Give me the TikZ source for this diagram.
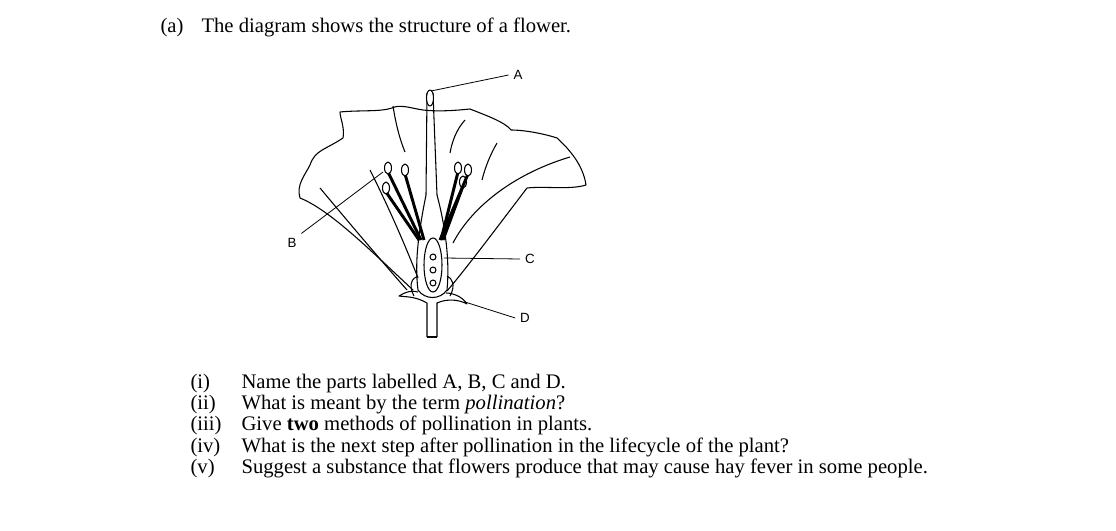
\documentclass[tikz,border=0pt]{standalone}
\usepackage{fontspec}
\setmainfont{Liberation Serif}
\setsansfont{Liberation Sans}
\usetikzlibrary{calc}

\begin{document}
\begin{tikzpicture}[x=0.75pt, y=-0.75pt, line width=0.8pt, line join=round,
    lbl/.style={font=\sffamily\fontsize{10}{11}\selectfont},
    txt/.style={anchor=base west, font=\fontsize{15.5}{17}\selectfont, inner sep=0pt}]
    \useasboundingbox (0,0) rectangle (1116,531);

    % heading and questions
    \node[txt] (qa) at (160,33) {(a)};
    \node[txt] (head) at (201,33) {The diagram shows the structure of a flower.};
    \foreach \n/\t [count=\i] in {(i)/{Name the parts labelled A, B, C and D.},
        (ii)/{What is meant by the term \textit{pollination}?},
        (iii)/{Give \textbf{two} methods of pollination in plants.},
        (iv)/{What is the next step after pollination in the lifecycle of the plant?},
        (v)/{Suggest a substance that flowers produce that may cause hay fever in some people.}}
    {
        \node[txt] (n\i) at (190,367+21.3*\i) {\n};
        \node[txt] (q\i) at (241,367+21.3*\i) {\t};
    }

    % petals
    \draw (413,290) .. controls (370,250) and (330,210) .. (300,198)
        .. controls (296,185) and (305,175) .. (310,165)
        .. controls (315,150) and (325,150) .. (343,138)
        .. controls (345,128) and (340,118) .. (340,112)
        .. controls (360,110) and (380,112) .. (392,108)
        .. controls (400,104) and (410,108) .. (423,110)
        .. controls (440,112) and (460,110) .. (470,109)
        .. controls (485,115) and (505,122) .. (511,130)
        .. controls (525,130) and (545,134) .. (557,138)
        .. controls (570,150) and (583,165) .. (586,185)
        .. controls (570,190) and (545,186) .. (527,188)
        .. controls (495,230) and (465,270) .. (447,291);
    \draw (320,188) .. controls (355,230) and (385,265) .. (407,290);
    \draw (370,170) .. controls (390,210) and (405,245) .. (418,278);
    \draw (393,106) .. controls (396,125) and (400,140) .. (405,152);
    \draw (465,120) .. controls (456,130) and (452,142) .. (450,153);
    \draw (497,143) .. controls (490,155) and (485,168) .. (482,180);
    \draw (570,157) .. controls (510,175) and (470,210) .. (453,243);

    % sepals and stalk
    \draw (427,337) -- (427,303) .. controls (415,296) and (405,297) .. (399,296)
        .. controls (405,292) and (412,290) .. (418,292);
    \draw (437,337) -- (437,303) .. controls (448,298) and (460,300) .. (467,304)
        .. controls (462,296) and (452,293) .. (446,293);
    \draw (427,337) -- (437,337);
    \draw (414,296) .. controls (408,285) and (412,278) .. (418,276);
    \draw (450,296) .. controls (456,285) and (452,278) .. (447,276);

    % pistil
    \draw (427,93) -- (426,195) .. controls (420,225) and (414,260) .. (418,290)
        .. controls (425,300) and (440,300) .. (447,290)
        .. controls (450,260) and (445,225) .. (437,195) -- (433,93);
    \draw[fill=white] (430,98) ellipse (3.5 and 8);
    \draw (433,265) ellipse (9 and 27);
    \foreach \oy in {257,270,283} \draw (433,\oy) circle (3);

    % stamens
    \foreach \ax/\ay/\bx in {388/168/421, 405/170/424, 386/188/419, 458/168/441, 463/182/443, 468/170/440}
    {
        \draw[line width=2.2pt] (\ax,\ay+4) -- (\bx,240);
        \draw[fill=white] (\ax,\ay) ellipse (3.5 and 6);
    }

    % labels
    \node[lbl] (la) at (518,75) {A};
    \node[lbl] (lb) at (292,243) {B};
    \node[lbl] (lc) at (530,259) {C};
    \node[lbl] (ld) at (525,318) {D};
    \coordinate (pa) at (431,91);
    \coordinate (pb) at (383,172);
    \coordinate (pc) at (444,258);
    \coordinate (pd) at (465,302);
    \draw[line width=0.6pt] (pa) -- (la.west);
    \draw[line width=0.6pt] (lb.north east) -- (pb);
    \draw[line width=0.6pt] (pc) -- (lc.west);
    \draw[line width=0.6pt] (pd) -- (ld.west);
\end{tikzpicture}
\end{document}
